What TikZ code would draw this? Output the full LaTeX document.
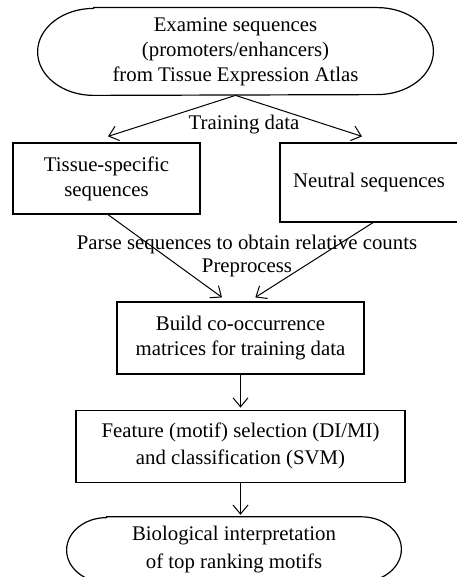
\documentclass[tikz,border=0pt]{standalone}
\usepackage{fontspec}
\setmainfont{Liberation Serif}
\usetikzlibrary{arrows.meta,positioning}

\begin{document}
\begin{tikzpicture}[
  x=0.5pt,y=-0.5pt,
  node distance=17.5pt,
  box/.style={draw,line width=0.6pt,inner sep=2pt,align=center,font=\fontsize{10.4}{12.5}\selectfont},
  term/.style={inner sep=2pt,align=center,font=\fontsize{10.4}{12.5}\selectfont},
  lbl/.style={inner sep=1pt,font=\fontsize{10.4}{12.5}\selectfont},
  arrow/.style={-{Straight Barb[length=4.5pt,width=7.5pt]},line width=0.5pt}
]
\useasboundingbox (0,0) rectangle (456,577);
\node[term,minimum width=197.5pt,minimum height=43.5pt] (examine) at (235.5,51.5) {Examine sequences\\(promoters/enhancers)\\from Tissue Expression Atlas};
\draw[line width=0.6pt] ([xshift=28pt]examine.north west) -- ([xshift=-28pt]examine.north east)
  arc[start angle=90,end angle=-90,x radius=28pt,y radius=21.75pt]
  -- ([xshift=28pt]examine.south west)
  arc[start angle=270,end angle=90,x radius=28pt,y radius=21.75pt] -- cycle;
\node[box,minimum width=93.5pt,minimum height=35.5pt] (tissue) at (106.5,178.5) {Tissue-specific\\sequences};
\node[box,minimum width=89pt,minimum height=39.5pt] (neutral) at (369,182.5) {Neutral sequences};
\node[box,minimum width=123.5pt,minimum height=36pt] (build) at (240.5,338) {Build co-occurrence\\matrices for training data};
\node[box,minimum width=164.5pt,minimum height=36pt,font=\fontsize{10.4}{13.5}\selectfont,below=of build] (feature) {Feature (motif) selection (DI/MI)\\and classification (SVM)};
\node[term,minimum width=167pt,minimum height=32.5pt,font=\fontsize{10.4}{14}\selectfont,below=17pt of feature,xshift=-3.25pt] (bio) {Biological interpretation\\of top ranking motifs};
\draw[line width=0.6pt] ([xshift=20pt]bio.north west) -- ([xshift=-20pt]bio.north east)
  arc[start angle=90,end angle=-90,x radius=20pt,y radius=16.25pt]
  -- ([xshift=20pt]bio.south west)
  arc[start angle=270,end angle=90,x radius=20pt,y radius=16.25pt] -- cycle;
\node[lbl] (training) at (244,125) {Training data};
\node[lbl] (parse) at (247,244) {Parse sequences to obtain relative counts};
\node[lbl] (preprocess) at (247,268) {Preprocess};
\draw[arrow] (examine.south) -- ([xshift=0.75pt,yshift=3pt]tissue.north);
\draw[arrow] (examine.south) -- ([xshift=-3.5pt,yshift=3pt]neutral.north);
\draw[arrow] ([xshift=0.75pt]tissue.south) -- ([xshift=-9.25pt,yshift=2pt]build.north);
\draw[arrow] ([xshift=2pt]neutral.south) -- ([xshift=7.4pt,yshift=2pt]build.north);
\draw[arrow,shorten >=1pt] (build) -- (feature);
\draw[arrow,shorten >=1pt] (feature.south) -- (feature.south |- bio.north);
\end{tikzpicture}
\end{document}
